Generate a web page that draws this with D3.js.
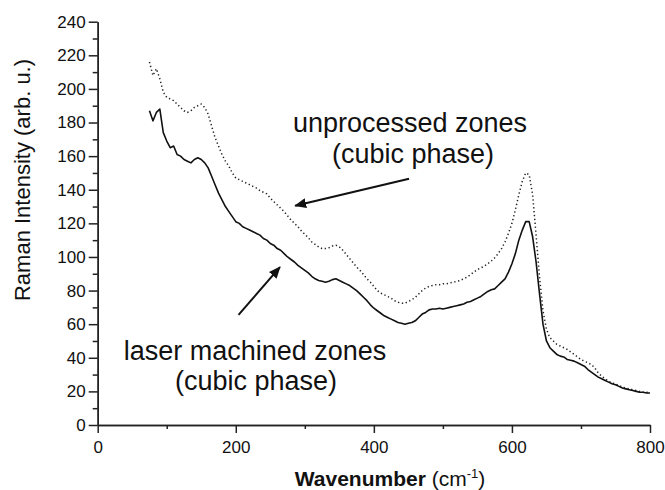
<!DOCTYPE html>
<html>
<head>
<meta charset="utf-8">
<script src="https://d3js.org/d3.v7.min.js"></script>
<style>
body {margin:0; background:#fff;}
text {font-family: "Liberation Sans", Arial, sans-serif; fill:#111;}
</style>
</head>
<body>
<svg width="665" height="490"></svg>
<script>
var wavenumber = d3.range(75, 805, 5);
var laserMachined = [
  187,181,186,188,174,169,165,166,161,160,
  158,157,156,158,159,158,156,153,148,143,
  138,134,130,127,124,121,120,118,117,116,
  115,114,113,111,110,108,107,105,104,102,
  100,98.5,97,95,93.5,92,90.5,88.5,87,86,
  85.5,85,85.5,86.5,87,86,85,84,83,81.5,
  80,78,76,74,71.5,69.5,68,66.5,65,64,
  63,62,61,60.5,60,60.5,61,62,64,66,
  67,68.5,69,69,69.5,69,69.5,70,70.5,71,
  71.5,72,73,73.5,74.5,75.5,76.5,78,79.5,80.5,
  81,83,85,87,91,96,102,110,116,121,
  121,112,97,78,60,50,46,44,42,41,
  40.5,39,38.5,38,37,36,35,33,31.5,30,
  28.5,27.5,26.5,25.5,24.5,24,23,22,21.5,21,
  20.5,20,19.5,19.5,19,19];
var unprocessed = [
  216,208,212,206,198,195,194,193,191,189,
  187,186,187,189,190,191,189,185,178,171,
  166,161,157,154,150,147,146,145,144,143,
  142,141,139.5,138.5,137.5,135,133,131,129,127,
  124.5,122,120,118,115.5,113.5,111.5,109,107.5,106,
  105,105,105.5,106.5,107,106,104,101.5,99,96.5,
  94,92,89.5,87,85,82.5,80,78.5,77.5,76.5,
  75.5,74,73,72.5,72.5,73.5,74.5,76,78,80,
  81.5,82.5,83,83.5,83.5,84,84,84.5,85,85.5,
  86,87,88,89.5,91,92.5,93.5,94.5,96,97.5,
  99.5,102,105,109,114,120,128,137,145,150,
  149,137,113,88,68,57,52,50,48,47,
  46,45,43.5,42,40.5,39,38,37,36,34,
  31,29,27.5,26,25,24.5,23.5,22.5,22,21.5,
  21,20.5,20,19.5,19.5,19];
var xTicks = [0, 200, 400, 600, 800];
var xMinorTicks = [100, 300, 500, 700];
var yTicks = [0, 20, 40, 60, 80, 100, 120, 140, 160, 180, 200, 220, 240];
var yMinorTicks = [10, 30, 50, 70, 90, 110, 130, 150, 170, 190, 210, 230];

var svg = d3.select("svg");
var mLeft = 97.7, mTop = 21.7, mRight = 650, mBottom = 425;

var x = d3.scaleLinear().domain([0, 800]).range([mLeft, mRight]);
var y = d3.scaleLinear().domain([0, 240]).range([mBottom, mTop]);

function styleAxis(g) {
  g.attr("font-family", null).attr("font-size", null);
  g.select(".domain").attr("stroke", "#222").attr("stroke-width", 1.5);
  g.selectAll(".tick line").attr("stroke", "#222").attr("stroke-width", 1.5);
  g.selectAll(".tick text").style("font-size", "17px").attr("fill", "#111");
}

// minor ticks first so the major axis sits on top
svg.append("g").attr("transform", "translate(0," + mBottom + ")")
  .call(d3.axisBottom(x).tickValues(xMinorTicks).tickSize(4).tickSizeOuter(0).tickFormat(""))
  .call(styleAxis);
svg.append("g").attr("transform", "translate(" + mLeft + ",0)")
  .call(d3.axisLeft(y).tickValues(yMinorTicks).tickSize(5).tickSizeOuter(0).tickFormat(""))
  .call(styleAxis);

svg.append("g").attr("transform", "translate(0," + mBottom + ")")
  .call(d3.axisBottom(x).tickValues(xTicks).tickSize(8).tickSizeOuter(0).tickPadding(8))
  .call(styleAxis);
svg.append("g").attr("transform", "translate(" + mLeft + ",0)")
  .call(d3.axisLeft(y).tickValues(yTicks).tickSize(9).tickSizeOuter(0).tickPadding(3))
  .call(styleAxis);

var line = d3.line()
  .x(function(d, i) { return x(wavenumber[i]); })
  .y(function(d) { return y(d); });

svg.append("path").datum(unprocessed)
  .attr("d", line).attr("fill", "none")
  .attr("stroke", "#222").attr("stroke-width", 1.5)
  .attr("stroke-dasharray", "1.3,2.6");

svg.append("path").datum(laserMachined)
  .attr("d", line).attr("fill", "none")
  .attr("stroke", "#111").attr("stroke-width", 1.6)
  .attr("stroke-linejoin", "round");

// axis titles
svg.append("text")
  .attr("transform", "translate(30,180) rotate(-90)")
  .attr("text-anchor", "middle")
  .style("font-size", "22px")
  .text("Raman Intensity (arb. u.)");

var xt = svg.append("text")
  .attr("x", 390).attr("y", 486)
  .attr("text-anchor", "middle")
  .style("font-size", "21px");
xt.append("tspan").style("font-weight", "bold").text("Wavenumber");
xt.append("tspan").text(" (cm");
xt.append("tspan").attr("dy", -8).style("font-size", "13px").text("-1");
xt.append("tspan").attr("dy", 8).text(")");

// annotations
svg.append("defs").append("marker")
  .attr("id", "head").attr("markerUnits", "userSpaceOnUse")
  .attr("viewBox", "0 0 12 10").attr("refX", 11).attr("refY", 5)
  .attr("markerWidth", 12).attr("markerHeight", 10).attr("orient", "auto")
  .append("path").attr("d", "M0,0 L12,5 L0,10 Z").attr("fill", "#111");

var arrows = [
  {from: [451, 146.5], to: [286, 130.5]},
  {from: [204, 65.5], to: [264, 94]}
];
svg.selectAll(".arrow").data(arrows).enter().append("line")
  .attr("class", "arrow")
  .attr("x1", function(d) { return x(d.from[0]); })
  .attr("y1", function(d) { return y(d.from[1]); })
  .attr("x2", function(d) { return x(d.to[0]); })
  .attr("y2", function(d) { return y(d.to[1]); })
  .attr("stroke", "#111").attr("stroke-width", 2)
  .attr("marker-end", "url(#head)");

var notes = [
  {text: "unprocessed zones", cx: 410, by: 132},
  {text: "(cubic phase)", cx: 413, by: 163},
  {text: "laser machined zones", cx: 255, by: 360},
  {text: "(cubic phase)", cx: 256, by: 390}
];
svg.selectAll(".note").data(notes).enter().append("text")
  .attr("class", "note")
  .attr("x", function(d) { return d.cx; })
  .attr("y", function(d) { return d.by; })
  .attr("text-anchor", "middle")
  .style("font-size", "27px")
  .text(function(d) { return d.text; });
</script>
</body>
</html>
